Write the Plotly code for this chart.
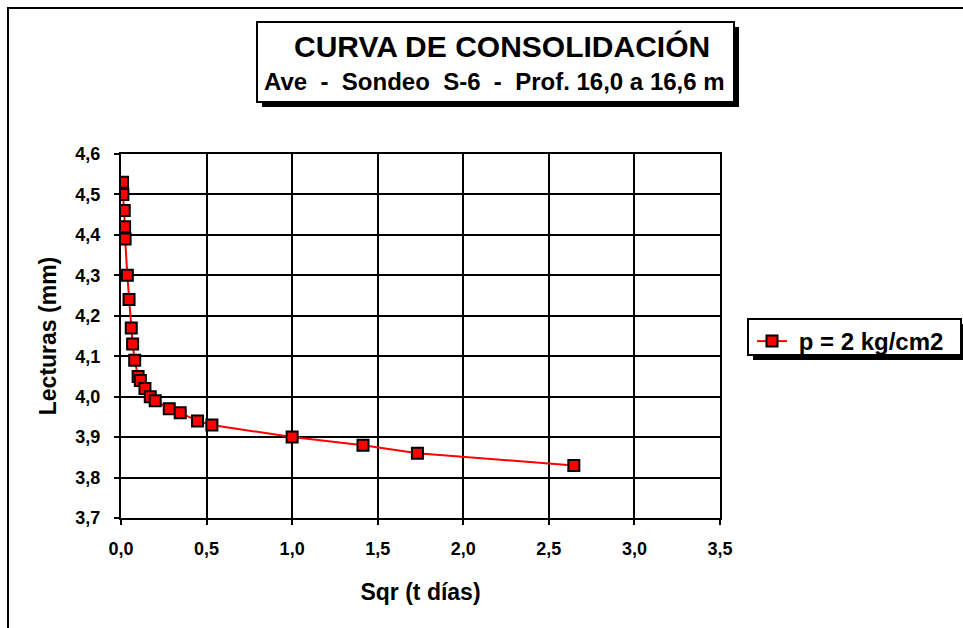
import plotly.graph_objects as go

# Data
sqrt_t = [0.009, 0.011, 0.019, 0.021, 0.024, 0.037, 0.047, 0.060, 0.068, 0.080,
          0.100, 0.113, 0.140, 0.171, 0.200, 0.282, 0.346, 0.447, 0.531,
          1.000, 1.414, 1.732, 2.646]
lecturas = [4.53, 4.50, 4.46, 4.42, 4.39, 4.30, 4.24, 4.17, 4.13, 4.09,
            4.05, 4.04, 4.02, 4.00, 3.99, 3.97, 3.96, 3.94, 3.93,
            3.90, 3.88, 3.86, 3.83]
series_name = "p = 2 kg/cm2"
title_line1 = "CURVA DE CONSOLIDACIÓN"
title_line2 = "Ave  -  Sondeo  S-6  -  Prof. 16,0 a 16,6 m"
x_title = "Sqr (t días)"
y_title = "Lecturas (mm)"

W, H = 963, 628
L, R, T, B = 121, 243, 154, 110
PW, PH = W - L - R, H - T - B


def px(x):
    return (x - L) / PW


def py(y):
    return (H - B - y) / PH


FONT = "Arial, Liberation Sans, sans-serif"

fig = go.Figure()
fig.add_trace(go.Scatter(
    x=sqrt_t, y=lecturas, mode="lines+markers",
    name="\u00a0" + series_name,
    line=dict(color="#ff0000", width=2),
    marker=dict(symbol="square", size=11, color="#ff0000",
                line=dict(color="black", width=2)),
))

shapes = []
shapes.append(dict(type="rect", xref="paper", yref="paper",
                   x0=px(8), x1=px(975), y0=py(8), y1=py(640),
                   line=dict(color="black", width=2), layer="below"))
shapes.append(dict(type="rect", xref="paper", yref="paper",
                   x0=px(262), x1=px(739), y0=py(27), y1=py(107),
                   line=dict(width=0), fillcolor="black", layer="below"))
shapes.append(dict(type="rect", xref="paper", yref="paper",
                   x0=px(257), x1=px(734), y0=py(22), y1=py(102),
                   line=dict(color="black", width=2), fillcolor="white", layer="below"))
shapes.append(dict(type="rect", xref="paper", yref="paper",
                   x0=px(753), x1=px(966), y0=py(324), y1=py(360),
                   line=dict(width=0), fillcolor="black", layer="below"))
shapes.append(dict(type="rect", xref="paper", yref="paper",
                   x0=px(748), x1=px(961), y0=py(319), y1=py(355),
                   line=dict(color="black", width=2), fillcolor="white", layer="below"))

annotations = [
    dict(text=title_line1, xref="paper", yref="paper",
         x=px(502), y=py(47), xanchor="center", yanchor="middle", showarrow=False,
         font=dict(family=FONT, size=30, color="black", weight="bold")),
    dict(text=title_line2, xref="paper", yref="paper",
         x=px(495), y=py(81), xanchor="center", yanchor="middle", showarrow=False,
         font=dict(family=FONT, size=24, color="black", weight="bold")),
]

fig.update_layout(
    width=W, height=H,
    margin=dict(l=L, r=R, t=T, b=B),
    paper_bgcolor="white", plot_bgcolor="white",
    separators=",.",
    font=dict(family=FONT, color="black"),
    shapes=shapes, annotations=annotations,
    showlegend=True,
    legend=dict(x=px(752), y=py(319), xanchor="left", yanchor="top",
                bgcolor="rgba(0,0,0,0)", borderwidth=0,
                font=dict(family=FONT, size=24, color="black", weight="bold"),
                itemwidth=30),
)

fig.update_xaxes(
    range=[0, 3.5], dtick=0.5, tick0=0, tickformat=".1f",
    showgrid=True, gridcolor="black", gridwidth=2,
    showline=True, linecolor="black", linewidth=2, mirror=True,
    ticks="outside", ticklen=5, tickwidth=2, tickcolor="black",
    zeroline=False, ticklabelstandoff=8,
    tickfont=dict(family=FONT, size=18, color="black", weight="bold"),
    title=dict(text=x_title, standoff=26,
               font=dict(family=FONT, size=23, color="black", weight="bold")),
)
fig.update_yaxes(
    range=[3.7, 4.6], dtick=0.1, tick0=3.7, tickformat=".1f",
    showgrid=True, gridcolor="black", gridwidth=2,
    showline=True, linecolor="black", linewidth=2, mirror=True,
    ticks="outside", ticklen=5, tickwidth=2, tickcolor="black",
    zeroline=False, ticklabelstandoff=10,
    tickfont=dict(family=FONT, size=18, color="black", weight="bold"),
    title=dict(text=y_title, standoff=12,
               font=dict(family=FONT, size=23, color="black", weight="bold")),
)

fig.write_html("out.html")
